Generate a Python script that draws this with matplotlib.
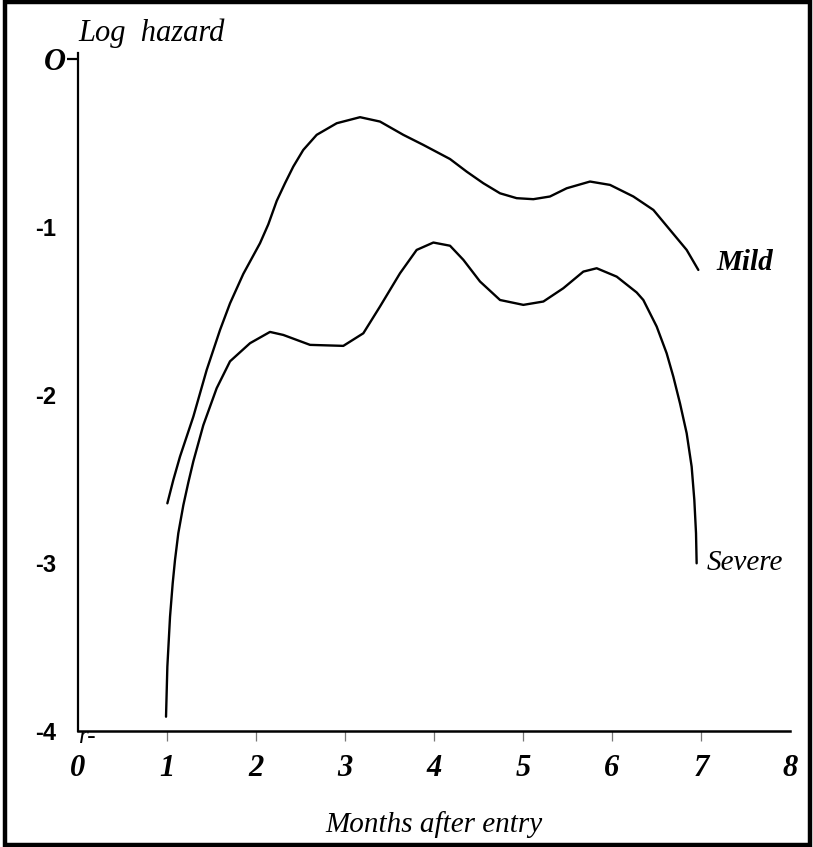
import matplotlib
matplotlib.use("Agg")
import matplotlib.pyplot as plt
from matplotlib.patches import Rectangle

# ---- data ----
mild_x = [1.004, 1.071, 1.146, 1.296, 1.446, 1.596, 1.708, 1.857, 2.045, 2.138, 2.233,
          2.326, 2.419, 2.531, 2.682, 2.907, 3.169, 3.393, 3.655, 3.880, 4.180, 4.367, 4.554,
          4.742, 4.929, 5.116, 5.303, 5.491, 5.753, 5.978, 6.240, 6.465, 6.652, 6.839, 6.970]
mild_y = [-2.645, -2.506, -2.367, -2.129, -1.851, -1.613, -1.455, -1.280, -1.097, -0.985, -0.845,
          -0.740, -0.641, -0.542, -0.452, -0.383, -0.347, -0.373, -0.452, -0.512, -0.596, -0.671, -0.740,
          -0.800, -0.829, -0.835, -0.819, -0.770, -0.730, -0.750, -0.819, -0.899, -1.018, -1.137, -1.256]

severe_x = [0.989, 1.004, 1.034, 1.064, 1.090, 1.127, 1.184, 1.240, 1.296, 1.408, 1.558, 1.708,
            1.933, 2.157, 2.307, 2.607, 2.981, 3.206, 3.393, 3.618, 3.805, 3.993, 4.180, 4.330,
            4.517, 4.742, 5.004, 5.229, 5.453, 5.678, 5.828, 6.053, 6.277, 6.352, 6.502, 6.614,
            6.689, 6.764, 6.839, 6.895, 6.925, 6.944, 6.951]
severe_y = [-3.915, -3.617, -3.320, -3.121, -2.982, -2.823, -2.655, -2.520, -2.395, -2.180, -1.960, -1.800,
            -1.692, -1.625, -1.643, -1.702, -1.708, -1.633, -1.474, -1.276, -1.137, -1.093, -1.112, -1.196,
            -1.325, -1.435, -1.464, -1.444, -1.365, -1.266, -1.246, -1.296, -1.390, -1.435, -1.593, -1.752,
            -1.891, -2.050, -2.228, -2.427, -2.625, -2.823, -3.002]

xtick_vals = [0, 1, 2, 3, 4, 5, 6, 7, 8]
xtick_labels = ["0", "1", "2", "3", "4", "5", "6", "7", "8"]
ytick_vals = [0, -1, -2, -3, -4]
ytick_labels = ["O", "-1", "-2", "-3", "-4"]

W, H = 813, 847
fig = plt.figure(figsize=(W / 100, H / 100), dpi=100)
fig.patch.set_facecolor("white")

left_px, right_px = 78, 790
bottom_px, top_px = 731, 53
ax = fig.add_axes([left_px / W, 1 - bottom_px / H, (right_px - left_px) / W, (bottom_px - top_px) / H])

serif = ["Liberation Serif", "DejaVu Serif"]
sans = ["Liberation Sans", "DejaVu Sans"]

ax.plot(mild_x, mild_y, color="black", lw=1.7, solid_joinstyle="round", solid_capstyle="round")
ax.plot(severe_x, severe_y, color="black", lw=1.7, solid_joinstyle="round", solid_capstyle="round")

ax.set_xlim(0, 8)
ax.set_ylim(-4, 0.035)

for s in ["top", "right"]:
    ax.spines[s].set_visible(False)
ax.spines["left"].set_linewidth(1.6)
ax.spines["bottom"].set_linewidth(1.8)

# x ticks
ax.set_xticks(xtick_vals)
ax.set_xticklabels(xtick_labels)
ax.tick_params(axis="x", length=7.5, width=0.9, color="#777777", pad=9)
for lab in ax.get_xticklabels():
    lab.set_fontfamily(serif)
    lab.set_fontstyle("italic")
    lab.set_fontweight("bold")
    lab.set_fontsize(22)
for t, v in zip(ax.xaxis.get_major_ticks(), xtick_vals):
    if v in (0, 8):
        t.tick1line.set_visible(False)

# y ticks
ax.set_yticks(ytick_vals)
ax.set_yticklabels(ytick_labels)
ax.tick_params(axis="y", length=8, width=1.6, color="black", pad=1)
for t, v in zip(ax.yaxis.get_major_ticks(), ytick_vals):
    lab = t.label1
    if v == 0:
        lab.set_fontfamily(serif)
        lab.set_fontstyle("italic")
        lab.set_fontweight("bold")
        lab.set_fontsize(22)
    else:
        t.tick1line.set_visible(False)
        t.set_pad(7.5)
        lab.set_fontfamily(sans)
        lab.set_fontweight("bold")
        lab.set_fontsize(17)

ax.set_xlabel("Months after entry", fontfamily=serif, fontstyle="italic", fontsize=21, labelpad=20)

fig.text(left_px / W, 1 - 41 / H, "Log  hazard", fontfamily=serif, fontstyle="italic",
         fontsize=22, ha="left", va="baseline")

ax.text(7.17, -1.21, "Mild", fontfamily=serif, fontstyle="italic", fontweight="bold",
        fontsize=21, ha="left", va="center")
ax.text(7.06, -3.0, "Severe", fontfamily=serif, fontstyle="italic",
        fontsize=21, ha="left", va="center")
ax.text(0.01, -4.035, "r-", fontfamily=serif, fontstyle="italic", fontsize=18,
        ha="left", va="center", clip_on=False, zorder=5)

# outer frame
fig.add_artist(Rectangle((4.5 / W, 2.5 / H), (809.5 - 4.5) / W, (844.5 - 2.5) / H,
                         transform=fig.transFigure, fill=False, lw=3.2, edgecolor="black"))

fig.savefig("out.png", dpi=100)
